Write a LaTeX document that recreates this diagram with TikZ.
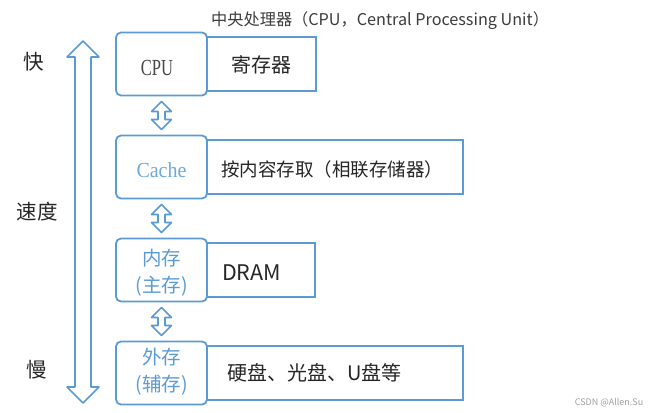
\documentclass[tikz,border=0pt]{standalone}
\usepackage{fontspec}
\setmainfont{Liberation Serif}
\newfontfamily\cjk{Noto Sans CJK SC}
\usetikzlibrary{calc}
\definecolor{boxblue}{HTML}{5B9BD5}
\definecolor{lightblue}{HTML}{6FA8DC}
\definecolor{ink}{HTML}{262626}
\definecolor{mark}{HTML}{A0A0A0}
\newcommand\hollowarrow[5]{%
  \draw[arrowline] let \p1=(#1), \p2=(#2) in
    (\x1,\y1) -- (\x1+#4,\y1-#5) -- (\x1+#3,\y1-#5) -- (\x1+#3,\y2+#5)
    -- (\x1+#4,\y2+#5) -- (\x1,\y2) -- (\x1-#4,\y2+#5) -- (\x1-#3,\y2+#5)
    -- (\x1-#3,\y1-#5) -- (\x1-#4,\y1-#5) -- cycle;}
\newcommand\hollowlink[2]{\hollowarrow{$(#1.south)+(0,6)$}{$(#2.north)+(0,-6)$}{3.5pt}{10pt}{10pt}}
\tikzset{
  arrowline/.style={draw=boxblue, line width=1.6pt, line join=round},
  leftbox/.style={draw=boxblue, line width=1.8pt, rounded corners=5pt, minimum width=91pt, minimum height=63pt, inner sep=0pt, outer sep=0pt},
  rightbox/.style={draw=boxblue, line width=1.8pt, minimum height=54pt, inner sep=0pt, outer sep=0pt, anchor=west},
  cjktext/.style={font=\cjk\fontsize{#1}{#1}\selectfont, text=ink, inner sep=0pt},
  cjktext/.default=20,
  bluetext/.style={font=\cjk\fontsize{19.5}{27}\selectfont, text=boxblue, inner sep=0pt, align=center},
  seriftext/.style={font=\fontsize{#1}{#1}\selectfont, inner sep=0pt},
}
\begin{document}
\begin{tikzpicture}[x=1pt, y=-1pt]
\useasboundingbox[fill=white] (0,0) rectangle (650,412);

% title
\node[cjktext=16.2, anchor=west, text=ink!90] (title) at (211,21) {中央处理器（CPU，Central Processing Unit）};

% speed axis
\node[cjktext=20.5] (fast) at (34,62) {快};
\node[cjktext=20.5] (speed) at (37,212) {速度};
\node[cjktext=20.5] (slow) at (37,370) {慢};
\coordinate (axtop) at (83,41);
\coordinate (axbot) at (83,403);
\hollowarrow{axtop}{axbot}{8pt}{16pt}{16pt}

% left boxes
\node[leftbox] (cpu) at (161.5,64) {};
\node[leftbox] (cache) at (161.5,167) {};
\node[leftbox] (mem) at (161.5,270) {};
\node[leftbox] (ext) at (161.5,373) {};

% right boxes
\node[rightbox, minimum width=109pt] (reg) at (cpu.east) {};
\node[rightbox, minimum width=256pt] (assoc) at (cache.east) {};
\node[rightbox, minimum width=108pt] (dram) at (mem.east) {};
\node[rightbox, minimum width=256pt] (disk) at (ext.east) {};

% left box labels
\node[seriftext=23, text=ink!85] (cpulbl) at (157,68) {\scalebox{0.72}[1]{CPU}};
\node[seriftext=21.5, text=lightblue] (cachelbl) at (161.5,170.5) {\scalebox{0.93}[1]{Cache}};
\node[bluetext] (memlbl) at (161.5,273) {内存\\(主存)};
\node[bluetext] (extlbl) at (161.5,372) {外存\\(辅存)};

% right box labels
\node[cjktext=20, anchor=west] (reglbl) at ($(reg.west)+(24,1)$) {寄存器};
\node[cjktext=18.5, anchor=west] (assoclbl) at ($(assoc.west)+(14,2)$) {按内容存取（相联存储器）};
\node[cjktext=21.5, anchor=west] (dramlbl) at ($(dram.west)+(15,3)$) {DRAM};
\node[cjktext=20, anchor=west] (disklbl) at ($(disk.west)+(20,0)$) {硬盘、光盘、U盘等};

% connectors
\hollowlink{cpu}{cache}
\hollowlink{cache}{mem}
\hollowlink{mem}{ext}

% watermark
\node[font=\cjk\fontsize{9}{9}\selectfont, text=mark, inner sep=0pt] (wm) at (609,403) {CSDN @Allen.Su};
\end{tikzpicture}
\end{document}
